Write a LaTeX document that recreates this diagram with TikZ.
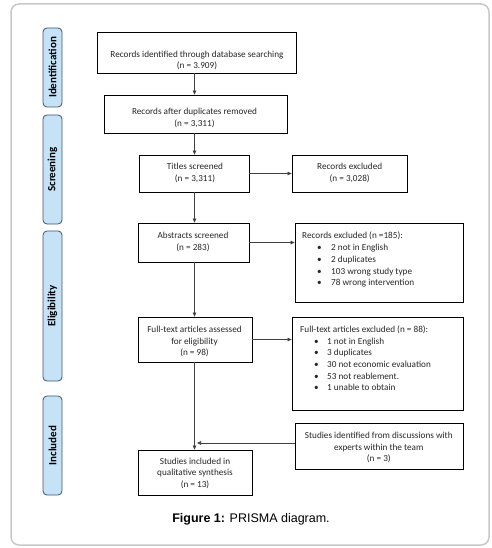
\documentclass[tikz,border=0pt]{standalone}
\usepackage{fontspec}
\setmainfont{Carlito}
\newfontfamily\capfont{Liberation Sans}
\usetikzlibrary{arrows.meta}
\definecolor{sideblue}{HTML}{C6E2F7}
\definecolor{sideedge}{HTML}{3E556B}
\definecolor{framegray}{HTML}{C8C8C8}
\definecolor{linegray}{HTML}{404040}
\begin{document}
\begin{tikzpicture}[x=1pt,y=-1pt,
  box/.style={draw=black, line width=0.8pt, inner sep=0pt},
  txt/.style={font=\fontsize{9.2}{11.4}\selectfont, align=center, inner sep=0pt, text=black!85},
  lst/.style={font=\fontsize{9.2}{11.7}\selectfont, align=left, inner sep=0pt, text=black!85, anchor=north west},
  side/.style={draw=sideedge, fill=sideblue, rounded corners=4pt, line width=0.8pt, minimum height=19pt, inner sep=0pt, rotate=90, font=\bfseries\fontsize{11}{12}\selectfont},
  arr/.style={draw=linegray, line width=0.7pt, -{Triangle[length=4pt,width=3.6pt]}}
]
\useasboundingbox (0,0) rectangle (491,548);
\draw[framegray, line width=1.5pt, rounded corners=8pt] (11,4) rectangle (489,545);

% phase labels
\node[side, minimum width=79pt] (sid1) at (52.5,67.5) {Identification};
\node[side, minimum width=109pt] (sid2) at (52.5,169.5) {Screening};
\node[side, minimum width=150pt] (sid3) at (52.5,306) {Eligibility};
\node[side, minimum width=99pt] (sid4) at (52.5,445.5) {Included};

% boxes
\node[box, minimum width=199pt, minimum height=41pt] (rid) at (196.5,52.5) {};
\node[txt] (ridT) at (197,60.5) {Records identified through database searching\\(n = 3.909)};
\node[box, minimum width=183pt, minimum height=38pt] (rad) at (195.5,114) {};
\node[txt] (radT) at (194.5,118) {Records after duplicates removed\\(n = 3,311)};
\node[box, minimum width=110pt, minimum height=37pt] (ts) at (194,173.5) {};
\node[txt] (tsT) at (195,173) {Titles screened\\(n = 3,311)};
\node[box, minimum width=115pt, minimum height=37pt] (re) at (349.5,173.5) {};
\node[txt] (reT) at (349.7,173) {Records excluded\\(n = 3,028)};
\node[box, minimum width=111pt, minimum height=39pt] (abs) at (193.5,242.5) {};
\node[txt] (absT) at (193,242) {Abstracts screened\\(n = 283)};
\node[box, minimum width=168pt, minimum height=79pt] (r185) at (379,262.5) {};
\node[lst] (r185T) at (302,232) {Records excluded (n =185):\\
  \hspace*{15pt}\makebox[14pt][l]{\textbullet}2 not in English\\
  \hspace*{15pt}\makebox[14pt][l]{\textbullet}2 duplicates\\
  \hspace*{15pt}\makebox[14pt][l]{\textbullet}103 wrong study type\\
  \hspace*{15pt}\makebox[14pt][l]{\textbullet}78 wrong intervention};
\node[box, minimum width=114pt, minimum height=45pt] (ft) at (195,339.5) {};
\node[txt] (ftT) at (194.5,341.5) {Full-text articles assessed\\for eligibility\\(n = 98)};
\node[box, minimum width=171pt, minimum height=93pt] (fte) at (377.5,363.5) {};
\node[lst] (fteT) at (300,325.5) {Full-text articles excluded (n = 88):\\
  \hspace*{14pt}\makebox[13pt][l]{\textbullet}1 not in English\\
  \hspace*{14pt}\makebox[13pt][l]{\textbullet}3 duplicates\\
  \hspace*{14pt}\makebox[13pt][l]{\textbullet}30 not economic evaluation\\
  \hspace*{14pt}\makebox[13pt][l]{\textbullet}53 not reablement.\\
  \hspace*{14pt}\makebox[13pt][l]{\textbullet}1 unable to obtain};
\node[box, minimum width=168pt, minimum height=46pt] (sid) at (379,446) {};
\node[txt] (sidT) at (378.8,447.7) {Studies identified from discussions with\\experts within the team\\(n = 3)};
\node[box, minimum width=114pt, minimum height=45pt] (si) at (195,472.5) {};
\node[txt] (siT) at (195,473.3) {Studies included in\\qualitative synthesis\\(n = 13)};

% connectors
\coordinate (col) at (194.5,0);
\coordinate (join) at (197,443);
\draw[arr] (rid.south -| col) -- (rad.north -| col);
\draw[arr] (rad.south -| col) -- (ts.north -| col);
\draw[arr] (ts.east) -- (re.west);
\draw[arr] (ts.south -| col) -- (abs.north -| col);
\draw[arr] (abs.east) -- (abs.east -| r185.west);
\draw[arr] (abs.south -| col) -- (ft.north -| col);
\draw[arr] (ft.east) -- (ft.east -| fte.west);
\draw[arr] (ft.south -| col) -- (si.north -| col);
\draw[arr] (sid.west |- join) -- (join);

% caption
\node[font=\capfont\fontsize{12.5}{14}\selectfont, inner sep=0pt] (cap) at (251,519.5) {\textbf{Figure 1:} PRISMA diagram.};
\end{tikzpicture}
\end{document}
